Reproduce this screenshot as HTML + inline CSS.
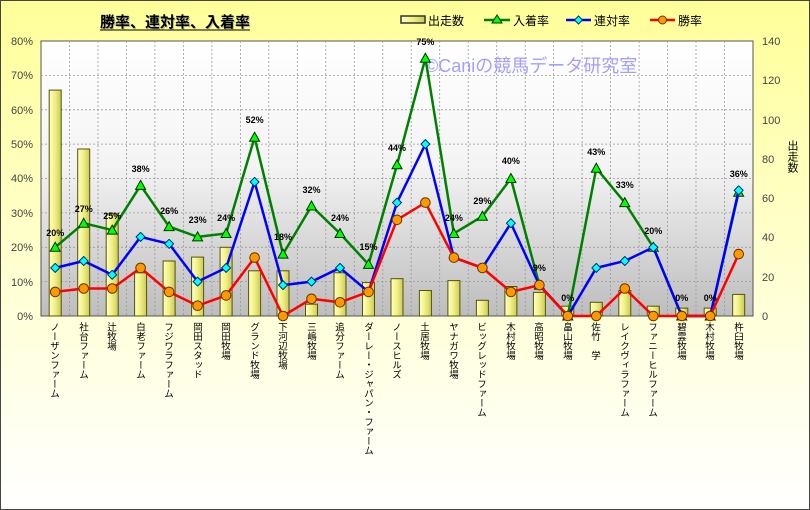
<!DOCTYPE html>
<html><head><meta charset="utf-8"><style>
html,body{margin:0;padding:0;}
body{width:810px;height:510px;overflow:hidden;font-family:"Liberation Sans","Noto Sans CJK JP",sans-serif;}
#wrap{position:absolute;left:0;top:0;width:808px;height:508px;border:1px solid #444;background:linear-gradient(#FFFF99,#FFFFF2 85%,#FFFFFF);}
.xl{position:absolute;top:322px;writing-mode:vertical-rl;font-size:9.5px;line-height:12px;color:#000;font-family:"Noto Sans CJK JP",sans-serif;white-space:nowrap;}
</style></head><body><div id="wrap"></div>
<svg width="810" height="510" style="position:absolute;left:0;top:0" font-family="Liberation Sans, Noto Sans CJK JP, sans-serif">
<defs>
<linearGradient id="pg" x1="0" y1="0" x2="0" y2="1"><stop offset="0" stop-color="#ffffff"/><stop offset="0.45" stop-color="#f4f4f4"/><stop offset="1" stop-color="#bdbdbd"/></linearGradient>
<linearGradient id="bg" x1="0" y1="0" x2="1" y2="0"><stop offset="0" stop-color="#ffffcc"/><stop offset="0.5" stop-color="#f0f080"/><stop offset="1" stop-color="#c8c860"/></linearGradient>
<marker id="tri" markerUnits="userSpaceOnUse" markerWidth="12" markerHeight="12" refX="6" refY="6"><path d="M6,1 L11,10 L1,10 Z" fill="#00ff00" stroke="#003300" stroke-width="1"/></marker>
<marker id="dia" markerUnits="userSpaceOnUse" markerWidth="10" markerHeight="10" refX="5" refY="5"><path d="M5,0.5 L9.5,5 L5,9.5 L0.5,5 Z" fill="#00ffff" stroke="#003366" stroke-width="1"/></marker>
<marker id="cir" markerUnits="userSpaceOnUse" markerWidth="12" markerHeight="12" refX="6" refY="6"><circle cx="6" cy="6" r="4.8" fill="#ff9900" stroke="#663300" stroke-width="1"/></marker>
</defs>
<rect x="41" y="41" width="712" height="275" fill="url(#pg)" stroke="#555" stroke-width="1"/>
<g stroke="#999" stroke-width="0.8" stroke-dasharray="2,2">
<line x1="41" x2="753" y1="75.4" y2="75.4"/><line x1="41" x2="753" y1="109.8" y2="109.8"/><line x1="41" x2="753" y1="144.1" y2="144.1"/><line x1="41" x2="753" y1="178.5" y2="178.5"/><line x1="41" x2="753" y1="212.9" y2="212.9"/><line x1="41" x2="753" y1="247.3" y2="247.3"/><line x1="41" x2="753" y1="281.6" y2="281.6"/>
<line y1="41" y2="316" x1="69.5" x2="69.5"/><line y1="41" y2="316" x1="98" x2="98"/><line y1="41" y2="316" x1="126.4" x2="126.4"/><line y1="41" y2="316" x1="154.9" x2="154.9"/><line y1="41" y2="316" x1="183.4" x2="183.4"/><line y1="41" y2="316" x1="211.9" x2="211.9"/><line y1="41" y2="316" x1="240.4" x2="240.4"/><line y1="41" y2="316" x1="268.8" x2="268.8"/><line y1="41" y2="316" x1="297.3" x2="297.3"/><line y1="41" y2="316" x1="325.8" x2="325.8"/><line y1="41" y2="316" x1="354.3" x2="354.3"/><line y1="41" y2="316" x1="382.8" x2="382.8"/><line y1="41" y2="316" x1="411.2" x2="411.2"/><line y1="41" y2="316" x1="439.7" x2="439.7"/><line y1="41" y2="316" x1="468.2" x2="468.2"/><line y1="41" y2="316" x1="496.7" x2="496.7"/><line y1="41" y2="316" x1="525.2" x2="525.2"/><line y1="41" y2="316" x1="553.6" x2="553.6"/><line y1="41" y2="316" x1="582.1" x2="582.1"/><line y1="41" y2="316" x1="610.6" x2="610.6"/><line y1="41" y2="316" x1="639.1" x2="639.1"/><line y1="41" y2="316" x1="667.6" x2="667.6"/><line y1="41" y2="316" x1="696" x2="696"/><line y1="41" y2="316" x1="724.5" x2="724.5"/>
</g>
<g fill="url(#bg)" stroke="#555500" stroke-width="1">
<rect x="49.2" y="90.1" width="12" height="225.9"/><rect x="77.7" y="149" width="12" height="167"/><rect x="106.2" y="213.9" width="12" height="102.1"/><rect x="134.6" y="272.8" width="12" height="43.2"/><rect x="163.1" y="261" width="12" height="55"/><rect x="191.6" y="257.1" width="12" height="58.9"/><rect x="220.1" y="247.3" width="12" height="68.7"/><rect x="248.6" y="270.8" width="12" height="45.2"/><rect x="277" y="270.8" width="12" height="45.2"/><rect x="305.5" y="304.2" width="12" height="11.8"/><rect x="334" y="272.8" width="12" height="43.2"/><rect x="362.5" y="282.6" width="12" height="33.4"/><rect x="391" y="278.7" width="12" height="37.3"/><rect x="419.4" y="290.5" width="12" height="25.5"/><rect x="447.9" y="280.6" width="12" height="35.4"/><rect x="476.4" y="300.3" width="12" height="15.7"/><rect x="504.9" y="286.5" width="12" height="29.5"/><rect x="533.4" y="292.4" width="12" height="23.6"/><rect x="561.8" y="306.2" width="12" height="9.8"/><rect x="590.3" y="302.3" width="12" height="13.7"/><rect x="618.8" y="290.5" width="12" height="25.5"/><rect x="647.3" y="306.2" width="12" height="9.8"/><rect x="675.8" y="308.1" width="12" height="7.9"/><rect x="704.2" y="308.1" width="12" height="7.9"/><rect x="732.7" y="294.4" width="12" height="21.6"/>
</g>
<text x="425" y="72" font-size="18" fill="#a0a0ff">©Caniの競馬データ研究室</text>
<polyline fill="none" stroke="#008000" stroke-width="2.5" marker-start="url(#tri)" marker-mid="url(#tri)" marker-end="url(#tri)" points="55.2,247.3 83.7,223.2 112.2,230.1 140.6,185.4 169.1,226.6 197.6,236.9 226.1,233.5 254.6,137.3 283,254.1 311.5,206 340,233.5 368.5,264.4 397,164.8 425.4,58.2 453.9,233.5 482.4,216.3 510.9,178.5 539.4,285.1 567.8,316 596.3,168.2 624.8,202.6 653.3,247.3 681.8,316 710.2,316 738.7,192.3"/>
<polyline fill="none" stroke="#0000ff" stroke-width="2.5" marker-start="url(#dia)" marker-mid="url(#dia)" marker-end="url(#dia)" points="55.2,267.9 83.7,261 112.2,274.8 140.6,236.9 169.1,243.8 197.6,281.6 226.1,267.9 254.6,181.9 283,285.1 311.5,281.6 340,267.9 368.5,291.9 397,202.6 425.4,144.1 453.9,257.6 482.4,267.9 510.9,223.2 539.4,285.1 567.8,316 596.3,267.9 624.8,261 653.3,247.3 681.8,316 710.2,316 738.7,190.3"/>
<polyline fill="none" stroke="#ff0000" stroke-width="2.5" marker-start="url(#cir)" marker-mid="url(#cir)" marker-end="url(#cir)" points="55.2,291.9 83.7,288.5 112.2,288.5 140.6,267.9 169.1,291.9 197.6,305.7 226.1,295.4 254.6,257.6 283,316 311.5,298.8 340,302.3 368.5,291.9 397,219.8 425.4,202.6 453.9,257.6 482.4,267.9 510.9,291.9 539.4,285.1 567.8,316 596.3,316 624.8,288.5 653.3,316 681.8,316 710.2,316 738.7,254.1"/>
<g font-size="9" font-weight="bold" text-anchor="middle" fill="#000">
<text x="55.2" y="236">20%</text><text x="83.7" y="212">27%</text><text x="112.2" y="219">25%</text><text x="140.6" y="172">38%</text><text x="169.1" y="214">26%</text><text x="197.6" y="223">23%</text><text x="226.1" y="221">24%</text><text x="254.6" y="123">52%</text><text x="283" y="240">18%</text><text x="311.5" y="193">32%</text><text x="340" y="221">24%</text><text x="368.5" y="250">15%</text><text x="397" y="151">44%</text><text x="425.4" y="45">75%</text><text x="453.9" y="221">24%</text><text x="482.4" y="204">29%</text><text x="510.9" y="164">40%</text><text x="539.4" y="271">9%</text><text x="567.8" y="301">0%</text><text x="596.3" y="155">43%</text><text x="624.8" y="188">33%</text><text x="653.3" y="234">20%</text><text x="681.8" y="301">0%</text><text x="710.2" y="301">0%</text><text x="738.7" y="177">36%</text>
</g>
<g font-size="11" fill="#444" text-anchor="end">
<text x="33" y="45">80%</text><text x="33" y="79">70%</text><text x="33" y="114">60%</text><text x="33" y="148">50%</text><text x="33" y="182">40%</text><text x="33" y="217">30%</text><text x="33" y="251">20%</text><text x="33" y="286">10%</text><text x="33" y="320">0%</text>
</g>
<g font-size="11" fill="#444">
<text x="762" y="45">140</text><text x="762" y="84">120</text><text x="762" y="124">100</text><text x="762" y="163">80</text><text x="762" y="202">60</text><text x="762" y="241">40</text><text x="762" y="281">20</text><text x="762" y="320">0</text>
</g>
<text x="792" y="140" font-size="11" writing-mode="tb" fill="#000">出走数</text>
<text x="101" y="28" font-size="15" font-weight="bold" fill="#bbbb88">勝率、連対率、入着率</text>
<text x="100" y="27" font-size="15" font-weight="bold" fill="#000">勝率、連対率、入着率</text>
<line x1="100" y1="30" x2="250" y2="30" stroke="#000" stroke-width="1"/>
<rect x="401" y="16" width="24" height="7" fill="url(#bg)" stroke="#333" stroke-width="1.5"/>
<text x="428" y="25" font-size="12">出走数</text>
<line x1="484" y1="20" x2="510" y2="20" stroke="#008000" stroke-width="2.5"/><path d="M497,15 L502,23 L492,23 Z" fill="#00ff00" stroke="#003300"/>
<text x="513" y="25" font-size="12">入着率</text>
<line x1="566" y1="20" x2="591" y2="20" stroke="#0000ff" stroke-width="2.5"/><path d="M578.5,16 L582.5,20 L578.5,24 L574.5,20 Z" fill="#00ffff" stroke="#003366"/>
<text x="594" y="25" font-size="12">連対率</text>
<line x1="650" y1="20" x2="675" y2="20" stroke="#ff0000" stroke-width="2.5"/><circle cx="662.5" cy="20" r="4" fill="#ff9900" stroke="#663300"/>
<text x="678" y="25" font-size="12">勝率</text>
</svg>
<div class="xl" style="left:49px">ノーザンファーム</div>
<div class="xl" style="left:78px">社台ファーム</div>
<div class="xl" style="left:106px">辻牧場</div>
<div class="xl" style="left:135px">白老ファーム</div>
<div class="xl" style="left:163px">フジワラファーム</div>
<div class="xl" style="left:192px">岡田スタッド</div>
<div class="xl" style="left:220px">岡田牧場</div>
<div class="xl" style="left:249px">グランド牧場</div>
<div class="xl" style="left:277px">下河辺牧場</div>
<div class="xl" style="left:306px">三嶋牧場</div>
<div class="xl" style="left:334px">追分ファーム</div>
<div class="xl" style="left:363px">ダーレー・ジャパン・ファーム</div>
<div class="xl" style="left:391px">ノースヒルズ</div>
<div class="xl" style="left:419px">土居牧場</div>
<div class="xl" style="left:448px">ヤナガワ牧場</div>
<div class="xl" style="left:476px">ビッグレッドファーム</div>
<div class="xl" style="left:505px">木村牧場</div>
<div class="xl" style="left:533px">高昭牧場</div>
<div class="xl" style="left:562px">畠山牧場</div>
<div class="xl" style="left:590px">佐竹　学</div>
<div class="xl" style="left:619px">レイクヴィラファーム</div>
<div class="xl" style="left:647px">ファニーヒルファーム</div>
<div class="xl" style="left:676px">碧雲牧場</div>
<div class="xl" style="left:704px">木村牧場</div>
<div class="xl" style="left:733px">杵臼牧場</div>
</body></html>
